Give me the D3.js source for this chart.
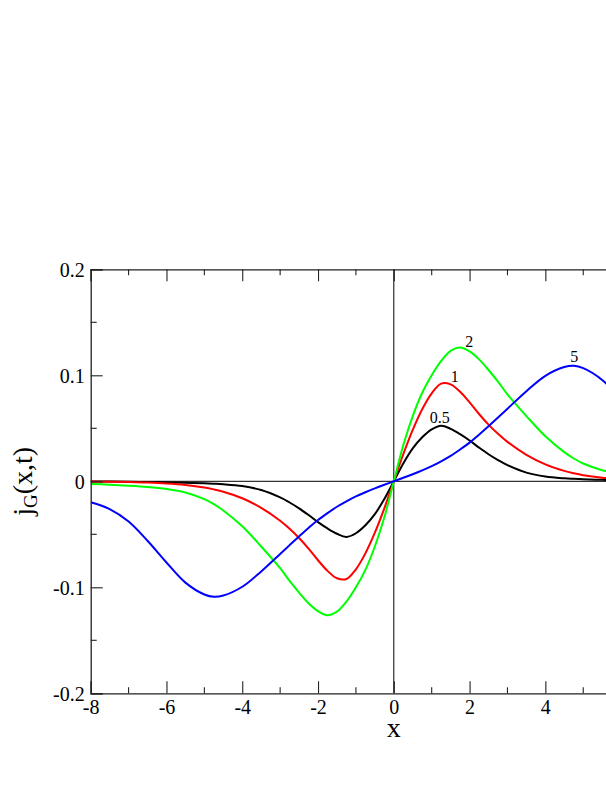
<!DOCTYPE html>
<html>
<head>
<meta charset="utf-8">
<script src="https://cdn.jsdelivr.net/npm/d3@7"></script>
<style>
  html, body { margin: 0; padding: 0; background: #fff; }
  svg { display: block; font-family: "Liberation Serif", "DejaVu Serif", serif; }
</style>
</head>
<body>
<div id="chart"></div>
<script>
// x grid shared by all curves
const xs = [-8, -7.5, -7, -6.5, -6, -5.5, -5, -4.75, -4.5, -4, -3.5, -3, -2.75, -2.5, -2.25, -2, -1.75, -1.5, -1.25, -1, -0.75, -0.5, -0.25,
  0,
  0.25, 0.5, 0.75, 1, 1.25, 1.5, 1.75, 2, 2.25, 2.5, 2.75, 3, 3.5, 4, 4.5, 4.75, 5, 5.5, 6, 6.5, 7, 7.5, 8];

// j_G(x,t) for t = 0.5, 1, 2, 5
const jT05 = [-0.0002, -0.0003, -0.0005, -0.0007, -0.001, -0.0014, -0.0019, -0.0023, -0.0028, -0.0045, -0.0082, -0.0152, -0.0200, -0.0255, -0.0318, -0.0385, -0.0445, -0.0495, -0.0525, -0.0490, -0.0415, -0.0310, -0.0168,
  0,
  0.0168, 0.0310, 0.0415, 0.0490, 0.0525, 0.0495, 0.0445, 0.0385, 0.0318, 0.0255, 0.0200, 0.0152, 0.0082, 0.0045, 0.0028, 0.0023, 0.0019, 0.0014, 0.001, 0.0007, 0.0005, 0.0003, 0.0002];

const jT1 = [-0.0002, -0.0004, -0.0007, -0.0012, -0.0020, -0.0034, -0.0058, -0.0076, -0.0098, -0.0160, -0.0250, -0.0372, -0.0448, -0.0535, -0.0635, -0.0745, -0.0845, -0.0915, -0.0922, -0.0830, -0.0680, -0.0485, -0.0255,
  0,
  0.0255, 0.0485, 0.0680, 0.0830, 0.0922, 0.0915, 0.0845, 0.0745, 0.0635, 0.0535, 0.0448, 0.0372, 0.0250, 0.0160, 0.0098, 0.0076, 0.0058, 0.0034, 0.0020, 0.0012, 0.0007, 0.0004, 0.0002];

const jT2 = [-0.0025, -0.0032, -0.0041, -0.0053, -0.0072, -0.0105, -0.0168, -0.0215, -0.0275, -0.0425, -0.0615, -0.0820, -0.0940, -0.1050, -0.1150, -0.1225, -0.1263, -0.1230, -0.1135, -0.1000, -0.0835, -0.0615, -0.0340,
  0,
  0.0340, 0.0615, 0.0835, 0.1000, 0.1135, 0.1230, 0.1263, 0.1225, 0.1150, 0.1050, 0.0940, 0.0820, 0.0615, 0.0425, 0.0275, 0.0215, 0.0168, 0.0105, 0.0072, 0.0053, 0.0041, 0.0032, 0.0025];

const jT5 = [-0.0198, -0.0262, -0.0379, -0.0561, -0.0766, -0.0956, -0.1068, -0.1090, -0.1078, -0.0995, -0.0850, -0.0685, -0.0602, -0.0520, -0.0440, -0.0365, -0.0300, -0.0240, -0.0189, -0.0143, -0.0103, -0.0067, -0.0033,
  0,
  0.0033, 0.0067, 0.0103, 0.0143, 0.0189, 0.0240, 0.0300, 0.0365, 0.0440, 0.0520, 0.0602, 0.0685, 0.0850, 0.0995, 0.1078, 0.1090, 0.1068, 0.0956, 0.0766, 0.0561, 0.0379, 0.0262, 0.0198];

const seriesColors = ['#000000', '#ff0000', '#00ff00', '#0000ff'];
const seriesValues = [jT05, jT1, jT2, jT5];

// curve labels (t values), in data coordinates
const labelText = ['0.5', '1', '2', '5'];
const labelX = [1.21, 1.61, 1.99, 4.76];
const labelY = [0.0553, 0.094, 0.127, 0.1128];

const xTicks = [-8, -6, -4, -2, 0, 2, 4, 6, 8];
const yTicks = [-0.2, -0.1, 0, 0.1, 0.2];
const yTickLabels = ['-0.2', '-0.1', '0', '0.1', '0.2'];
const xMinor = [-7, -5, -3, -1, 1, 3, 5, 7];
const yMinor = [-0.15, -0.05, 0.05, 0.15];

const width = 606, height = 785;

const svg = d3.select('#chart').append('svg')
  .attr('width', width)
  .attr('height', height);

const x = d3.scaleLinear().domain([-8, 8]).range([90.7, 696.9]);
const y = d3.scaleLinear().domain([-0.2, 0.2]).range([693.3, 269.3]);

svg.append('clipPath').attr('id', 'plot-clip')
  .append('rect')
  .attr('x', x(-8)).attr('y', y(0.2))
  .attr('width', x(8) - x(-8)).attr('height', y(-0.2) - y(0.2));

// zero lines
svg.append('line')
  .attr('x1', x(-8)).attr('x2', x(8))
  .attr('y1', y(0)).attr('y2', y(0))
  .attr('stroke', '#000').attr('stroke-width', 1);
svg.append('line')
  .attr('x1', x(0)).attr('x2', x(0))
  .attr('y1', y(-0.2)).attr('y2', y(0.2))
  .attr('stroke', '#000').attr('stroke-width', 1);

// curves
const line = d3.line()
  .x(d => x(d[0]))
  .y(d => y(d[1]))
  .curve(d3.curveCatmullRom.alpha(0.5));

const curves = svg.append('g').attr('clip-path', 'url(#plot-clip)');
seriesValues.forEach((vals, i) => {
  curves.append('path')
    .datum(xs.map((xv, k) => [xv, vals[k]]))
    .attr('fill', 'none')
    .attr('stroke', seriesColors[i])
    .attr('stroke-width', 2)
    .attr('d', line);
});

// axes, ticks point inward; labels past the right edge are left empty
const axBottom = svg.append('g').attr('transform', `translate(0,${y(-0.2)})`)
  .call(d3.axisBottom(x).tickValues(xTicks).tickSize(-12)
    .tickFormat(d => x(d) < width ? String(d) : ''));
const axTop = svg.append('g').attr('transform', `translate(0,${y(0.2)})`)
  .call(d3.axisTop(x).tickValues(xTicks).tickSize(-12).tickFormat(''));
const axLeft = svg.append('g').attr('transform', `translate(${x(-8)},0)`)
  .call(d3.axisLeft(y).tickValues(yTicks).tickSize(-12)
    .tickFormat((d, i) => yTickLabels[i]));
const axRight = svg.append('g').attr('transform', `translate(${x(8)},0)`)
  .call(d3.axisRight(y).tickValues(yTicks).tickSize(-12).tickFormat(''));

// minor ticks
axBottom.append('g').selectAll('line').data(xMinor).join('line')
  .attr('x1', d => x(d)).attr('x2', d => x(d)).attr('y1', 0).attr('y2', -6);
axTop.append('g').selectAll('line').data(xMinor).join('line')
  .attr('x1', d => x(d)).attr('x2', d => x(d)).attr('y1', 0).attr('y2', 6);
axLeft.append('g').selectAll('line').data(yMinor).join('line')
  .attr('y1', d => y(d)).attr('y2', d => y(d)).attr('x1', 0).attr('x2', 6);
axRight.append('g').selectAll('line').data(yMinor).join('line')
  .attr('y1', d => y(d)).attr('y2', d => y(d)).attr('x1', 0).attr('x2', -6);

[axBottom, axTop, axLeft, axRight].forEach(g => {
  g.selectAll('.domain').attr('stroke', '#222').attr('stroke-width', 1.3);
  g.selectAll('line').attr('stroke', '#222').attr('stroke-width', 1.1);
  g.selectAll('text')
    .attr('font-family', '"Liberation Serif", serif')
    .attr('font-size', 20)
    .attr('fill', '#000');
});
axBottom.selectAll('.tick text').attr('y', 7).attr('dy', '0.71em');
axLeft.selectAll('.tick text').attr('x', -6).attr('dy', '0.35em');

// curve labels
svg.append('g').selectAll('text')
  .data(labelText)
  .join('text')
  .attr('x', (d, i) => x(labelX[i]))
  .attr('y', (d, i) => y(labelY[i]))
  .attr('text-anchor', 'middle')
  .attr('font-size', 16)
  .text(d => d);

// axis titles
svg.append('text')
  .attr('x', x(0))
  .attr('y', 737)
  .attr('text-anchor', 'middle')
  .attr('font-size', 28)
  .text('x');

const yTitle = svg.append('text')
  .attr('transform', `translate(32,${y(0)}) rotate(-90)`)
  .attr('text-anchor', 'middle')
  .attr('font-size', 28);
yTitle.append('tspan').text('j');
yTitle.append('tspan').attr('font-size', 19).attr('dy', 5).text('G');
yTitle.append('tspan').attr('dy', -5).text('(x,t)');
</script>
</body>
</html>
